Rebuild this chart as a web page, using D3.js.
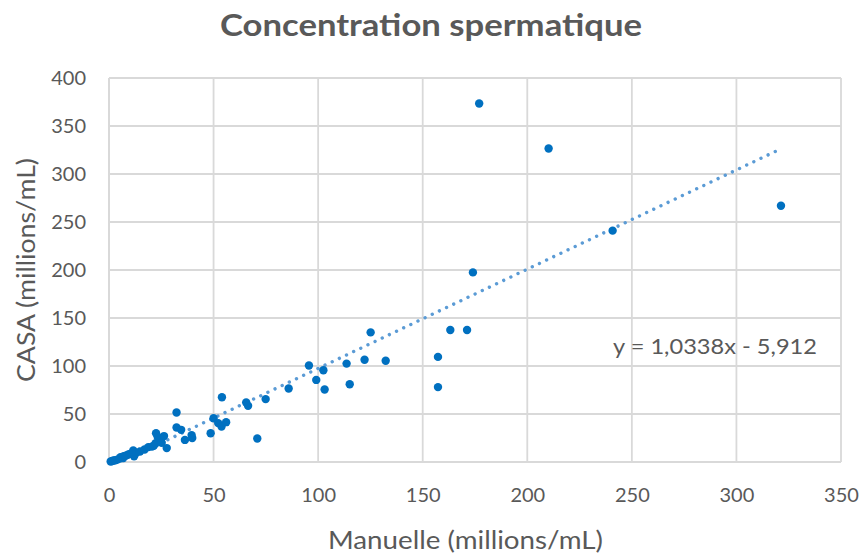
<!DOCTYPE html>
<html><head><meta charset="utf-8">
<script src="https://cdn.jsdelivr.net/npm/d3@7"></script>
<style>body{margin:0;background:#fff}svg{display:block}</style>
</head><body>
<svg id="c" width="864" height="557"></svg>
<script>
const title = "Concentration spermatique";
const xTitle = "Manuelle (millions/mL)";
const yTitle = "CASA (millions/mL)";
const equation = "y = 1,0338x - 5,912";
const slope = 1.0338, intercept = -5.912;
const xTicks = [0, 50, 100, 150, 200, 250, 300, 350];
const yTicks = [0, 50, 100, 150, 200, 250, 300, 350, 400];
const manuelle = [0.8,1.5,2.2,3,4,5,5.5,6.5,7,8,9,10,11.6,12,13,14.8,17,18.8,20.5,21.4,22.3,22.5,23.3,25.2,26.3,27.6,32.3,32.3,34.5,36.3,39.5,39.8,48.6,50,52.2,53.8,54,56,65.6,66.5,70.9,74.9,85.9,95.6,99.1,102.5,103.1,113.6,115.1,122.2,125.1,132.3,157.3,157.3,163.2,171.2,174,177,210.2,240.8,321.3];
const casa     = [0.5,1,1.5,1.8,2.5,3.5,5,4,6,6.5,7.5,8.5,12,6,9.5,11,13,15.5,16,17,19.5,30,26,20,27,14.5,51.5,36,33.5,23,28,25,30,45.5,40.5,37,67.5,41.5,62,58.5,24.5,65.5,76.5,100.5,85.5,95.5,75.5,102.5,81,106.5,135,105.5,109.5,78,137.5,137.5,197.5,373.5,326.5,241,267];

const svg = d3.select("#c");
const L = 109, R = 841, T = 78, B = 462;
const x = d3.scaleLinear().domain([0, 350]).range([L, R]);
const y = d3.scaleLinear().domain([0, 400]).range([B, T]);
const grey = "#595959", grid = "#D9D9D9";
const font = "Lato, 'Open Sans', sans-serif";

// gridlines
svg.append("g").selectAll("line.v").data(xTicks).join("line")
  .attr("x1", d => x(d)).attr("x2", d => x(d)).attr("y1", T).attr("y2", B)
  .attr("stroke", grid).attr("stroke-width", 1.8);
svg.append("g").selectAll("line.h").data(yTicks).join("line")
  .attr("x1", L).attr("x2", R).attr("y1", d => y(d)).attr("y2", d => y(d))
  .attr("stroke", grid).attr("stroke-width", 1.8);

// axes (labels only)
const xAxis = svg.append("g").attr("transform", `translate(0,${B})`)
  .call(d3.axisBottom(x).tickValues(xTicks).tickSize(0).tickPadding(26).tickFormat(d3.format("d")));
const yAxis = svg.append("g").attr("transform", `translate(${L},0)`)
  .call(d3.axisLeft(y).tickValues(yTicks).tickSize(0).tickPadding(23).tickFormat(d3.format("d")));
[xAxis, yAxis].forEach(a => {
  a.select(".domain").remove();
  a.selectAll("text").attr("fill", grey).style("font-family", font).style("font-size", "20px");
});
svg.append("line").attr("x1", L).attr("x2", L).attr("y1", T).attr("y2", B).attr("stroke", grid).attr("stroke-width", 2);
svg.append("line").attr("x1", L).attr("x2", R).attr("y1", B).attr("y2", B).attr("stroke", grid).attr("stroke-width", 2);

// clip
svg.append("clipPath").attr("id", "pa").append("rect").attr("x", L).attr("y", T).attr("width", R - L).attr("height", B - T);

// trendline
const xmin = d3.min(manuelle), xmax = d3.max(manuelle);
svg.append("line").attr("clip-path", "url(#pa)")
  .attr("x1", x(xmin)).attr("y1", y(slope * xmin + intercept))
  .attr("x2", x(xmax)).attr("y2", y(slope * xmax + intercept))
  .attr("stroke", "#5B9BD5").attr("stroke-width", 3.4)
  .attr("stroke-linecap", "round").attr("stroke-dasharray", "0.01 7.9");

// points
svg.append("g").selectAll("circle").data(manuelle.map((m, i) => [m, casa[i]])).join("circle")
  .attr("cx", d => x(d[0])).attr("cy", d => y(d[1])).attr("r", 4.2).attr("fill", "#0070C0");

// equation
svg.append("text").attr("x", 613).attr("y", 354).attr("fill", grey)
  .style("font-family", font).style("font-size", "22px")
  .attr("textLength", 204).attr("lengthAdjust", "spacingAndGlyphs").text(equation);

// title
svg.append("text").attr("x", 220).attr("y", 36).attr("fill", grey)
  .style("font-family", font).style("font-size", "31px").style("font-weight", "bold")
  .attr("textLength", 422).attr("lengthAdjust", "spacingAndGlyphs").text(title);

// axis titles
svg.append("text").attr("x", 328).attr("y", 549).attr("fill", grey)
  .style("font-family", font).style("font-size", "25px")
  .attr("textLength", 275).attr("lengthAdjust", "spacingAndGlyphs").text(xTitle);
svg.append("text").attr("transform", "translate(35,382) rotate(-90)").attr("fill", grey)
  .style("font-family", font).style("font-size", "25px")
  .attr("textLength", 224).attr("lengthAdjust", "spacingAndGlyphs").text(yTitle);
</script>
</body></html>
